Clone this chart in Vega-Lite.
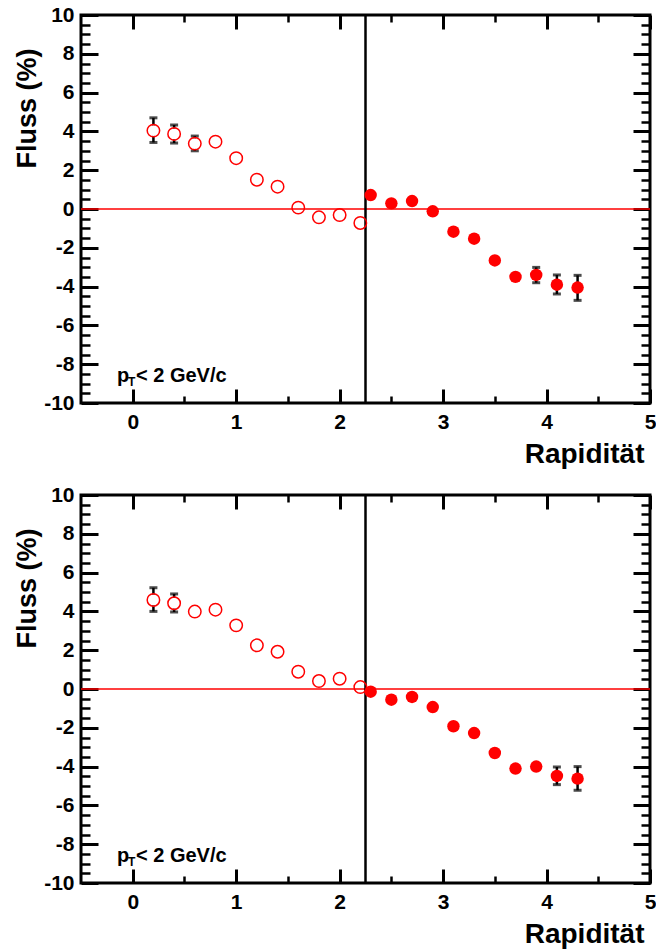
{
  "$schema": "https://vega.github.io/schema/vega-lite/v6.json",
  "background": "white",
  "padding": {"left": 11, "top": 2, "right": 0, "bottom": 0},
  "config": {
    "view": {"stroke": "black", "strokeWidth": 3},
    "axis": {"domain": false, "grid": false, "tickColor": "black", "labelFont": "Liberation Sans", "labelFontWeight": "bold", "labelColor": "black", "titleColor": "black", "titleFont": "Liberation Sans", "titleFontWeight": "bold", "labelOverlap": false, "labelFlush": false, "labelBound": false}
  },
  "datasets": {
    "openTop": [
      {"x": 0.2, "y": 4.04}, {"x": 0.4, "y": 3.87}, {"x": 0.6, "y": 3.37}, {"x": 0.8, "y": 3.47},
      {"x": 1.0, "y": 2.62}, {"x": 1.2, "y": 1.51}, {"x": 1.4, "y": 1.15}, {"x": 1.6, "y": 0.07},
      {"x": 1.8, "y": -0.43}, {"x": 2.0, "y": -0.31}, {"x": 2.2, "y": -0.72}
    ],
    "filledTop": [
      {"x": 2.3, "y": 0.72}, {"x": 2.5, "y": 0.29}, {"x": 2.7, "y": 0.41}, {"x": 2.9, "y": -0.12},
      {"x": 3.1, "y": -1.17}, {"x": 3.3, "y": -1.53}, {"x": 3.5, "y": -2.65}, {"x": 3.7, "y": -3.5},
      {"x": 3.9, "y": -3.4}, {"x": 4.1, "y": -3.9}, {"x": 4.3, "y": -4.05}
    ],
    "errTop": [
      {"x": 0.2, "lo": 3.43, "hi": 4.7}, {"x": 0.4, "lo": 3.4, "hi": 4.33}, {"x": 0.6, "lo": 3.0, "hi": 3.76},
      {"x": 3.9, "lo": -3.8, "hi": -3.01}, {"x": 4.1, "lo": -4.38, "hi": -3.4}, {"x": 4.3, "lo": -4.71, "hi": -3.42}
    ],
    "openBottom": [
      {"x": 0.2, "y": 4.59}, {"x": 0.4, "y": 4.42}, {"x": 0.6, "y": 3.99}, {"x": 0.8, "y": 4.09},
      {"x": 1.0, "y": 3.28}, {"x": 1.2, "y": 2.25}, {"x": 1.4, "y": 1.92}, {"x": 1.6, "y": 0.89},
      {"x": 1.8, "y": 0.41}, {"x": 2.0, "y": 0.53}, {"x": 2.2, "y": 0.1}
    ],
    "filledBottom": [
      {"x": 2.3, "y": -0.14}, {"x": 2.5, "y": -0.55}, {"x": 2.7, "y": -0.41}, {"x": 2.9, "y": -0.93},
      {"x": 3.1, "y": -1.92}, {"x": 3.3, "y": -2.27}, {"x": 3.5, "y": -3.3}, {"x": 3.7, "y": -4.1},
      {"x": 3.9, "y": -4.0}, {"x": 4.1, "y": -4.48}, {"x": 4.3, "y": -4.62}
    ],
    "errBottom": [
      {"x": 0.2, "lo": 4.0, "hi": 5.22}, {"x": 0.4, "lo": 3.97, "hi": 4.9},
      {"x": 4.1, "lo": -4.93, "hi": -4.02}, {"x": 4.3, "lo": -5.22, "hi": -4.0}
    ]
  },
  "bounds": "flush",
  "spacing": 92,
  "vconcat": [
    {
      "width": 569, "height": 388,
      "resolve": {"axis": {"x": "independent", "y": "independent"}},
      "layer": [
        {
          "data": {"name": "errTop"},
          "mark": {"type": "rule", "color": "black", "strokeWidth": 2.5},
          "encoding": {
            "x": {"field": "x", "type": "quantitative", "scale": {"domain": [-0.5, 5], "nice": false, "zero": false},
              "axis": {"orient": "bottom", "values": [0, 1, 2, 3, 4, 5], "ticks": false, "labelFontSize": 21, "labelPadding": 8, "title": "Rapidität", "titleFontSize": 28, "titleX": 563, "titleY": 59, "titleAlign": "right", "titleBaseline": "alphabetic"}},
            "y": {"field": "lo", "type": "quantitative", "scale": {"domain": [-10, 10], "nice": false, "zero": false},
              "axis": {"orient": "left", "values": [-10, -8, -6, -4, -2, 0, 2, 4, 6, 8, 10], "ticks": false, "labelFontSize": 21, "labelPadding": 7, "labelExpr": "datum.value < 0 ? '-' + abs(datum.value) : '' + datum.value", "title": "Fluss (%)", "titleFontSize": 27, "titleX": -54, "titleY": 93, "titleAngle": 270, "titleAlign": "center", "titleBaseline": "middle"}},
            "y2": {"field": "hi"}
          }
        },
        {
          "data": {"name": "errTop"},
          "mark": {"type": "tick", "orient": "horizontal", "color": "black", "size": 8, "thickness": 3},
          "encoding": {
            "x": {"field": "x", "type": "quantitative", "scale": {"domain": [-0.5, 5], "nice": false, "zero": false},
              "axis": {"orient": "top", "offset": -388, "values": [0, 1, 2, 3, 4, 5], "tickSize": 14, "tickWidth": 3, "labels": false, "title": null}},
            "y": {"field": "lo", "type": "quantitative", "scale": {"domain": [-10, 10], "nice": false, "zero": false},
              "axis": {"orient": "right", "offset": -569, "values": [-10, -8, -6, -4, -2, 0, 2, 4, 6, 8, 10], "tickSize": 17, "tickWidth": 3, "labels": false, "title": null}}
          }
        },
        {
          "data": {"name": "errTop"},
          "mark": {"type": "tick", "orient": "horizontal", "color": "black", "size": 8, "thickness": 3},
          "encoding": {
            "x": {"field": "x", "type": "quantitative", "scale": {"domain": [-0.5, 5], "nice": false, "zero": false},
              "axis": {"orient": "top", "offset": -388, "values": [0.5, 1.5, 2.5, 3.5, 4.5], "tickSize": 7, "tickWidth": 2.5, "labels": false, "title": null}},
            "y": {"field": "hi", "type": "quantitative", "scale": {"domain": [-10, 10], "nice": false, "zero": false},
              "axis": {"orient": "right", "offset": -569, "values": [-9.5, -9, -8.5, -7.5, -7, -6.5, -5.5, -5, -4.5, -3.5, -3, -2.5, -1.5, -1, -0.5, 0.5, 1, 1.5, 2.5, 3, 3.5, 4.5, 5, 5.5, 6.5, 7, 7.5, 8.5, 9, 9.5], "tickSize": 9, "tickWidth": 2.5, "labels": false, "title": null}}
          }
        },
        {
          "data": {"name": "openTop"},
          "mark": {"type": "circle", "color": "white", "opacity": 1, "size": 120},
          "encoding": {
            "x": {"field": "x", "type": "quantitative", "scale": {"domain": [-0.5, 5], "nice": false, "zero": false},
              "axis": {"orient": "bottom", "offset": -388, "values": [0, 1, 2, 3, 4, 5], "tickSize": 14, "tickWidth": 3, "labels": false, "title": null}},
            "y": {"field": "y", "type": "quantitative", "scale": {"domain": [-10, 10], "nice": false, "zero": false},
              "axis": {"orient": "left", "offset": -569, "values": [-10, -8, -6, -4, -2, 0, 2, 4, 6, 8, 10], "tickSize": 17, "tickWidth": 3, "labels": false, "title": null}}
          }
        },
        {
          "data": {"values": [{}]},
          "mark": {"type": "rule", "color": "#ff0000", "strokeWidth": 1.5},
          "encoding": {"y": {"datum": 0, "type": "quantitative", "scale": {"domain": [-10, 10], "nice": false, "zero": false}, "axis": null}}
        },
        {
          "data": {"values": [{}]},
          "mark": {"type": "rule", "color": "black", "strokeWidth": 2.5},
          "encoding": {"x": {"datum": 2.25, "type": "quantitative", "scale": {"domain": [-0.5, 5], "nice": false, "zero": false}, "axis": null}}
        },
        {
          "data": {"name": "openTop"},
          "mark": {"type": "point", "shape": "circle", "filled": false, "color": "#ff0000", "strokeWidth": 1.5, "opacity": 1, "size": 155},
          "encoding": {
            "x": {"field": "x", "type": "quantitative", "scale": {"domain": [-0.5, 5], "nice": false, "zero": false},
              "axis": {"orient": "bottom", "offset": -388, "values": [0.5, 1.5, 2.5, 3.5, 4.5], "tickSize": 7, "tickWidth": 2.5, "labels": false, "title": null}},
            "y": {"field": "y", "type": "quantitative", "scale": {"domain": [-10, 10], "nice": false, "zero": false},
              "axis": {"orient": "left", "offset": -569, "values": [-9.5, -9, -8.5, -7.5, -7, -6.5, -5.5, -5, -4.5, -3.5, -3, -2.5, -1.5, -1, -0.5, 0.5, 1, 1.5, 2.5, 3, 3.5, 4.5, 5, 5.5, 6.5, 7, 7.5, 8.5, 9, 9.5], "tickSize": 9, "tickWidth": 2.5, "labels": false, "title": null}}
          }
        },
        {
          "data": {"name": "filledTop"},
          "mark": {"type": "circle", "color": "#ff0000", "opacity": 1, "size": 155},
          "encoding": {
            "x": {"field": "x", "type": "quantitative", "scale": {"domain": [-0.5, 5], "nice": false, "zero": false}, "axis": null},
            "y": {"field": "y", "type": "quantitative", "scale": {"domain": [-10, 10], "nice": false, "zero": false}, "axis": null}
          }
        },
        {
          "data": {"values": [{}]},
          "mark": {"type": "text", "text": "p", "font": "Liberation Sans", "fontWeight": "bold", "fontSize": 20, "align": "left", "baseline": "alphabetic", "color": "black"},
          "encoding": {"x": {"datum": -0.152, "type": "quantitative", "axis": null}, "y": {"datum": -8.9, "type": "quantitative", "axis": null}}
        },
        {
          "data": {"values": [{}]},
          "mark": {"type": "text", "text": "T", "font": "Liberation Sans", "fontWeight": "bold", "fontSize": 12, "align": "left", "baseline": "alphabetic", "color": "black", "dx": 11, "dy": 4},
          "encoding": {"x": {"datum": -0.152, "type": "quantitative", "axis": null}, "y": {"datum": -8.9, "type": "quantitative", "axis": null}}
        },
        {
          "data": {"values": [{}]},
          "mark": {"type": "text", "text": "< 2 GeV/c", "font": "Liberation Sans", "fontWeight": "bold", "fontSize": 20, "align": "left", "baseline": "alphabetic", "color": "black", "dx": 19},
          "encoding": {"x": {"datum": -0.152, "type": "quantitative", "axis": null}, "y": {"datum": -8.9, "type": "quantitative", "axis": null}}
        }
      ]
    },
    {
      "width": 569, "height": 388,
      "resolve": {"axis": {"x": "independent", "y": "independent"}},
      "layer": [
        {
          "data": {"name": "errBottom"},
          "mark": {"type": "rule", "color": "black", "strokeWidth": 2.5},
          "encoding": {
            "x": {"field": "x", "type": "quantitative", "scale": {"domain": [-0.5, 5], "nice": false, "zero": false},
              "axis": {"orient": "bottom", "values": [0, 1, 2, 3, 4, 5], "ticks": false, "labelFontSize": 21, "labelPadding": 8, "title": "Rapidität", "titleFontSize": 28, "titleX": 563, "titleY": 59, "titleAlign": "right", "titleBaseline": "alphabetic"}},
            "y": {"field": "lo", "type": "quantitative", "scale": {"domain": [-10, 10], "nice": false, "zero": false},
              "axis": {"orient": "left", "values": [-10, -8, -6, -4, -2, 0, 2, 4, 6, 8, 10], "ticks": false, "labelFontSize": 21, "labelPadding": 7, "labelExpr": "datum.value < 0 ? '-' + abs(datum.value) : '' + datum.value", "title": "Fluss (%)", "titleFontSize": 27, "titleX": -54, "titleY": 93, "titleAngle": 270, "titleAlign": "center", "titleBaseline": "middle"}},
            "y2": {"field": "hi"}
          }
        },
        {
          "data": {"name": "errBottom"},
          "mark": {"type": "tick", "orient": "horizontal", "color": "black", "size": 8, "thickness": 3},
          "encoding": {
            "x": {"field": "x", "type": "quantitative", "scale": {"domain": [-0.5, 5], "nice": false, "zero": false},
              "axis": {"orient": "top", "offset": -388, "values": [0, 1, 2, 3, 4, 5], "tickSize": 14, "tickWidth": 3, "labels": false, "title": null}},
            "y": {"field": "lo", "type": "quantitative", "scale": {"domain": [-10, 10], "nice": false, "zero": false},
              "axis": {"orient": "right", "offset": -569, "values": [-10, -8, -6, -4, -2, 0, 2, 4, 6, 8, 10], "tickSize": 17, "tickWidth": 3, "labels": false, "title": null}}
          }
        },
        {
          "data": {"name": "errBottom"},
          "mark": {"type": "tick", "orient": "horizontal", "color": "black", "size": 8, "thickness": 3},
          "encoding": {
            "x": {"field": "x", "type": "quantitative", "scale": {"domain": [-0.5, 5], "nice": false, "zero": false},
              "axis": {"orient": "top", "offset": -388, "values": [0.5, 1.5, 2.5, 3.5, 4.5], "tickSize": 7, "tickWidth": 2.5, "labels": false, "title": null}},
            "y": {"field": "hi", "type": "quantitative", "scale": {"domain": [-10, 10], "nice": false, "zero": false},
              "axis": {"orient": "right", "offset": -569, "values": [-9.5, -9, -8.5, -7.5, -7, -6.5, -5.5, -5, -4.5, -3.5, -3, -2.5, -1.5, -1, -0.5, 0.5, 1, 1.5, 2.5, 3, 3.5, 4.5, 5, 5.5, 6.5, 7, 7.5, 8.5, 9, 9.5], "tickSize": 9, "tickWidth": 2.5, "labels": false, "title": null}}
          }
        },
        {
          "data": {"name": "openBottom"},
          "mark": {"type": "circle", "color": "white", "opacity": 1, "size": 120},
          "encoding": {
            "x": {"field": "x", "type": "quantitative", "scale": {"domain": [-0.5, 5], "nice": false, "zero": false},
              "axis": {"orient": "bottom", "offset": -388, "values": [0, 1, 2, 3, 4, 5], "tickSize": 14, "tickWidth": 3, "labels": false, "title": null}},
            "y": {"field": "y", "type": "quantitative", "scale": {"domain": [-10, 10], "nice": false, "zero": false},
              "axis": {"orient": "left", "offset": -569, "values": [-10, -8, -6, -4, -2, 0, 2, 4, 6, 8, 10], "tickSize": 17, "tickWidth": 3, "labels": false, "title": null}}
          }
        },
        {
          "data": {"values": [{}]},
          "mark": {"type": "rule", "color": "#ff0000", "strokeWidth": 1.5},
          "encoding": {"y": {"datum": 0, "type": "quantitative", "scale": {"domain": [-10, 10], "nice": false, "zero": false}, "axis": null}}
        },
        {
          "data": {"values": [{}]},
          "mark": {"type": "rule", "color": "black", "strokeWidth": 2.5},
          "encoding": {"x": {"datum": 2.25, "type": "quantitative", "scale": {"domain": [-0.5, 5], "nice": false, "zero": false}, "axis": null}}
        },
        {
          "data": {"name": "openBottom"},
          "mark": {"type": "point", "shape": "circle", "filled": false, "color": "#ff0000", "strokeWidth": 1.5, "opacity": 1, "size": 155},
          "encoding": {
            "x": {"field": "x", "type": "quantitative", "scale": {"domain": [-0.5, 5], "nice": false, "zero": false},
              "axis": {"orient": "bottom", "offset": -388, "values": [0.5, 1.5, 2.5, 3.5, 4.5], "tickSize": 7, "tickWidth": 2.5, "labels": false, "title": null}},
            "y": {"field": "y", "type": "quantitative", "scale": {"domain": [-10, 10], "nice": false, "zero": false},
              "axis": {"orient": "left", "offset": -569, "values": [-9.5, -9, -8.5, -7.5, -7, -6.5, -5.5, -5, -4.5, -3.5, -3, -2.5, -1.5, -1, -0.5, 0.5, 1, 1.5, 2.5, 3, 3.5, 4.5, 5, 5.5, 6.5, 7, 7.5, 8.5, 9, 9.5], "tickSize": 9, "tickWidth": 2.5, "labels": false, "title": null}}
          }
        },
        {
          "data": {"name": "filledBottom"},
          "mark": {"type": "circle", "color": "#ff0000", "opacity": 1, "size": 155},
          "encoding": {
            "x": {"field": "x", "type": "quantitative", "scale": {"domain": [-0.5, 5], "nice": false, "zero": false}, "axis": null},
            "y": {"field": "y", "type": "quantitative", "scale": {"domain": [-10, 10], "nice": false, "zero": false}, "axis": null}
          }
        },
        {
          "data": {"values": [{}]},
          "mark": {"type": "text", "text": "p", "font": "Liberation Sans", "fontWeight": "bold", "fontSize": 20, "align": "left", "baseline": "alphabetic", "color": "black"},
          "encoding": {"x": {"datum": -0.152, "type": "quantitative", "axis": null}, "y": {"datum": -8.9, "type": "quantitative", "axis": null}}
        },
        {
          "data": {"values": [{}]},
          "mark": {"type": "text", "text": "T", "font": "Liberation Sans", "fontWeight": "bold", "fontSize": 12, "align": "left", "baseline": "alphabetic", "color": "black", "dx": 11, "dy": 4},
          "encoding": {"x": {"datum": -0.152, "type": "quantitative", "axis": null}, "y": {"datum": -8.9, "type": "quantitative", "axis": null}}
        },
        {
          "data": {"values": [{}]},
          "mark": {"type": "text", "text": "< 2 GeV/c", "font": "Liberation Sans", "fontWeight": "bold", "fontSize": 20, "align": "left", "baseline": "alphabetic", "color": "black", "dx": 19},
          "encoding": {"x": {"datum": -0.152, "type": "quantitative", "axis": null}, "y": {"datum": -8.9, "type": "quantitative", "axis": null}}
        }
      ]
    }
  ]
}
